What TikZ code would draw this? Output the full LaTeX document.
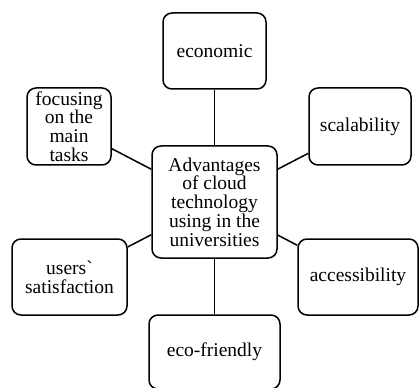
\documentclass[tikz,border=0pt]{standalone}
\usepackage{fontspec}
\setmainfont{Liberation Serif}
\usepackage{tikz}
\usetikzlibrary{positioning}
\tikzset{
    box style/.style={draw, rectangle, rounded corners=9pt, line width=1.5pt, inner sep=0pt, align=center, text centered, font=\fontsize{19.5}{18.8}\selectfont},
    link style/.style={line width=1.5pt},
}

\begin{document}
\begin{tikzpicture}[x=1pt, y=-1pt]
        \useasboundingbox (0,0) rectangle (419,387);
        \node (core) [box style, minimum width=125pt, minimum height=112pt] at (214.5,202) {Advantages\\of cloud\\technology\\using in the\\universities};
        \node (economic) [box style, minimum width=103pt, minimum height=76pt] at (214.5,51) {economic};
        \node (focusing) [box style, minimum width=84pt, minimum height=77pt] at (69,126.5) {focusing\\on the\\main\\tasks};
        \node (scalability) [box style, minimum width=102pt, minimum height=77pt] at (360,126.5) {scalability};
        \node (users) [box style, minimum width=115pt, minimum height=76pt] at (69.5,277) {users\textasciigrave\\satisfaction};
        \node (access) [box style, minimum width=120pt, minimum height=76pt] at (358,277) {accessibility};
        \node (eco) [box style, minimum width=131pt, minimum height=74pt] at (214.5,352) {eco-friendly};

        \draw [link style] (core) -- (economic);
        \draw [link style] (core) -- (focusing);
        \draw [link style] (core) -- (scalability);
        \draw [link style] (core) -- (users);
        \draw [link style] (core) -- (access);
        \draw [link style] (core) -- (eco);
    \end{tikzpicture}
\end{document}
